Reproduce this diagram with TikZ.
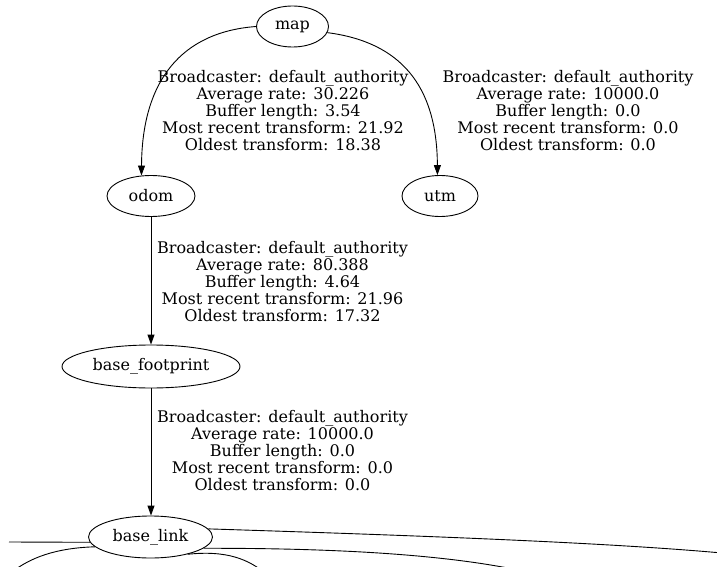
\documentclass[tikz,border=0pt]{standalone}
\usepackage{fontspec}
\setmainfont{DejaVu Serif}
\usetikzlibrary{arrows.meta,shapes.geometric}
\begin{document}
\begin{tikzpicture}[x=1pt,y=-1pt,
  every node/.style={font=\fontsize{16}{17}\selectfont},
  frame/.style={draw,ellipse,line width=0.9pt,inner sep=0pt},
  lab/.style={align=center,inner sep=0pt},
  edge/.style={draw,line width=0.9pt},
  arr/.style={edge,-{Triangle[length=10pt,width=7pt]}}]
\useasboundingbox (0,0) rectangle (717,567);
\clip (0,0) rectangle (717,567);
\node[frame,minimum width=72pt,minimum height=41pt] (map) at (292.5,26.5) {map};
\node[frame,minimum width=88pt,minimum height=41pt] (odom) at (151,196) {odom};
\node[frame,minimum width=76pt,minimum height=41pt] (utm) at (440,196) {utm};
\node[frame,minimum width=178pt,minimum height=43pt] (bfp) at (151,366.5) {base\_footprint};
\node[frame,minimum width=124pt,minimum height=42pt] (blink) at (150.5,537) {base\_link};

\node[lab] (l1) at (283,111) {Broadcaster: default\_authority\\Average rate: 30.226\\Buffer length: 3.54\\Most recent transform: 21.92\\Oldest transform: 18.38};
\node[lab] (l2) at (568,111) {Broadcaster: default\_authority\\Average rate: 10000.0\\Buffer length: 0.0\\Most recent transform: 0.0\\Oldest transform: 0.0};
\node[lab] (l3) at (282.5,281.5) {Broadcaster: default\_authority\\Average rate: 80.388\\Buffer length: 4.64\\Most recent transform: 21.96\\Oldest transform: 17.32};
\node[lab] (l4) at (282.5,451) {Broadcaster: default\_authority\\Average rate: 10000.0\\Buffer length: 0.0\\Most recent transform: 0.0\\Oldest transform: 0.0};

\draw[arr] (map.west) .. controls (182,32) and (142,80) .. (odom.115);
\draw[arr] (map.-10) .. controls (400,42) and (437,85) .. (utm.97);
\draw[arr] (odom.south) -- (bfp.north);
\draw[arr] (bfp.south) -- (bfp.south |- blink.north);

\coordinate (e1) at (9,542);
\coordinate (e2) at (12,572);
\coordinate (e3) at (264,572);
\coordinate (e4) at (722,553);
\coordinate (e5) at (518,570);
\draw[edge] (blink.185) -- (e1);
\draw[edge] (blink.190) .. controls (55,548) and (30,558) .. (e2);
\draw[edge] (blink.-25) .. controls (228,550) and (248,560) .. (e3);
\draw[edge] (blink.8) .. controls (400,535) and (600,542) .. (e4);
\draw[edge] (blink.-12) .. controls (350,548) and (450,556) .. (e5);
\end{tikzpicture}
\end{document}
